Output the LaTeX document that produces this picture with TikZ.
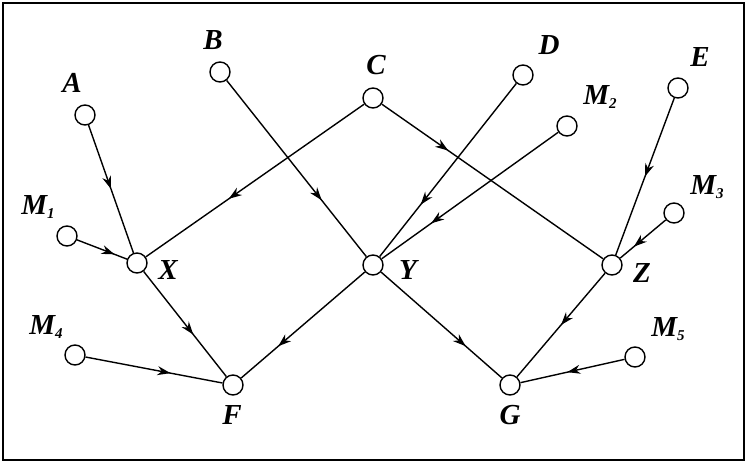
\documentclass[tikz,border=0pt]{standalone}
\usepackage{fontspec}
\setmainfont{Liberation Serif}
\usetikzlibrary{decorations.markings,arrows.meta}
\newcommand{\mysub}[1]{\raisebox{-0.25ex}{\fontsize{15}{15}\selectfont #1}}
\begin{document}
\begin{tikzpicture}[x=1pt,y=-1pt,
  vtx/.style={circle,draw,line width=1.4pt,minimum size=20pt,inner sep=0pt,fill=white},
  lbl/.style={font=\fontsize{29}{29}\selectfont\bfseries\itshape,inner sep=0pt},
  edge/.style={line width=1.4pt,postaction={decorate},decoration={markings,mark=at position #1 with {\arrow{Stealth[length=13pt,width=9pt]}}}},
  edge/.default=0.55]
\useasboundingbox (0,0) rectangle (747,463);
\draw[line width=1.6pt] (3,3) rectangle (744,460);
\node[vtx] (A) at (85,115) {};
\node[vtx] (B) at (220,72) {};
\node[vtx] (C) at (373,98) {};
\node[vtx] (D) at (523,75) {};
\node[vtx] (M2) at (567,126) {};
\node[vtx] (E) at (678,88) {};
\node[vtx] (M1) at (67,236) {};
\node[vtx] (X) at (137,263) {};
\node[vtx] (Y) at (373,265) {};
\node[vtx] (Z) at (612,265) {};
\node[vtx] (M3) at (674,213) {};
\node[vtx] (M4) at (75,355) {};
\node[vtx] (F) at (233,385) {};
\node[vtx] (G) at (510,385) {};
\node[vtx] (M5) at (635,357) {};
\node[lbl] (lA) at (72,83) {A};
\node[lbl] (lB) at (213,40) {B};
\node[lbl] (lC) at (376,65) {C};
\node[lbl] (lD) at (549,45) {D};
\node[lbl] (lM2) at (600,97) {M\mysub{2}};
\node[lbl] (lE) at (700,57) {E};
\node[lbl] (lM1) at (38,207) {M\mysub{1}};
\node[lbl] (lX) at (168,270) {X};
\node[lbl] (lY) at (408,270) {Y};
\node[lbl] (lZ) at (642,273) {Z};
\node[lbl] (lM3) at (707,187) {M\mysub{3}};
\node[lbl] (lM4) at (46,327) {M\mysub{4}};
\node[lbl] (lF) at (232,415) {F};
\node[lbl] (lG) at (510,415) {G};
\node[lbl] (lM5) at (668,329) {M\mysub{5}};
\draw[edge=0.5] (A) -- (X);
\draw[edge=0.75] (M1) -- (X);
\draw[edge=0.62] (C) -- (X);
\draw[edge=0.68] (B) -- (Y);
\draw[edge=0.7] (D) -- (Y);
\draw[edge=0.72] (M2) -- (Y);
\draw[edge=0.3] (C) -- (Z);
\draw[edge=0.5] (E) -- (Z);
\draw[edge=0.7] (M3) -- (Z);
\draw[edge=0.6] (X) -- (F);
\draw[edge=0.7] (Y) -- (F);
\draw[edge=0.62] (M4) -- (F);
\draw[edge=0.7] (Y) -- (G);
\draw[edge=0.5] (Z) -- (G);
\draw[edge=0.55] (M5) -- (G);
\end{tikzpicture}
\end{document}
